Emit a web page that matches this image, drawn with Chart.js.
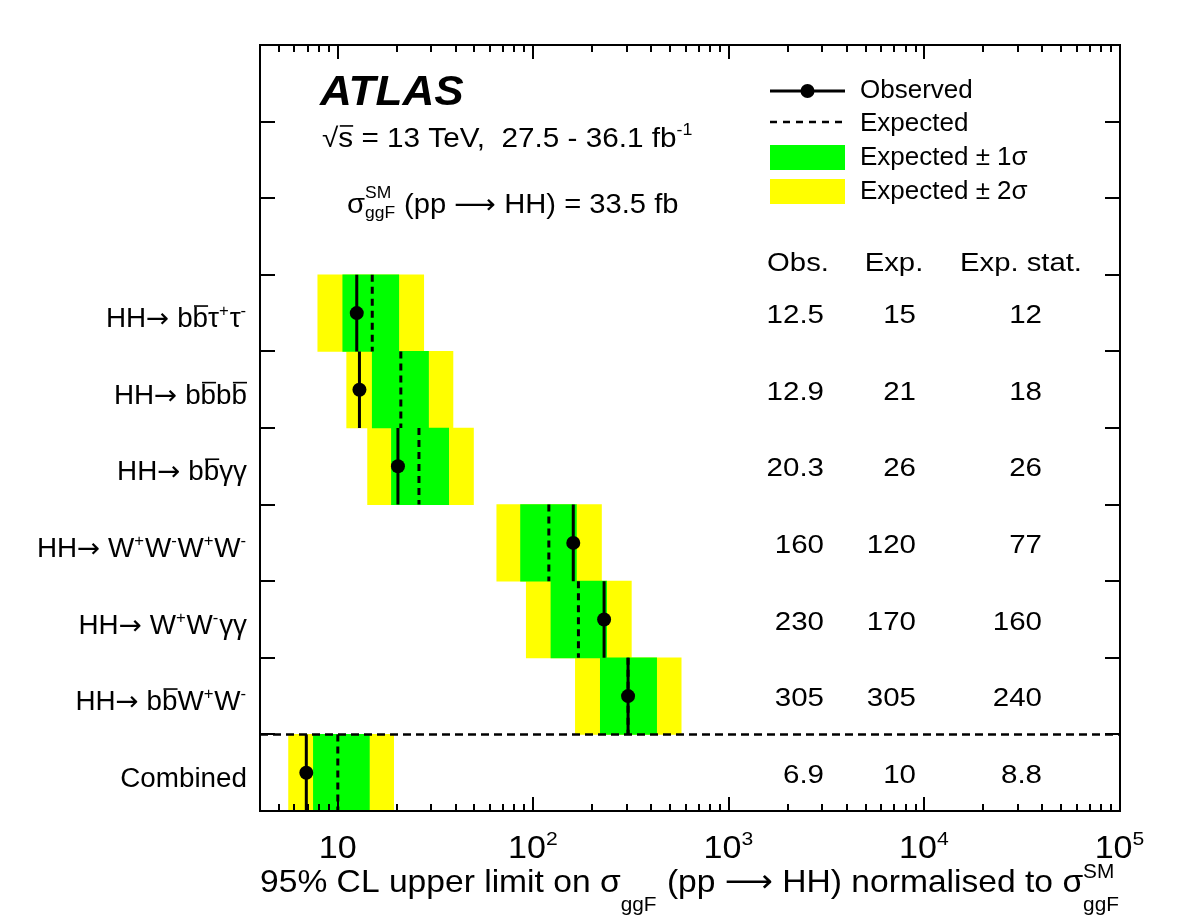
<!DOCTYPE html>
<html>
<head>
<meta charset="utf-8">
<title>HH limits</title>
<script src="https://cdn.jsdelivr.net/npm/chart.js@4.4.1/dist/chart.umd.min.js"></script>
<style>
  body { margin: 0; background: #fff; }
  canvas { display: block; }
</style>
</head>
<body>
<canvas id="hhChart" width="1182" height="923"></canvas>
<script>
// channel names: ^{} superscript, _{} subscript, #{} overline, @{} symbol font
const channels = [
  'HH@{\u2192} b#{b}\u03c4^{+}\u03c4^{-}',
  'HH@{\u2192} b#{b}b#{b}',
  'HH@{\u2192} b#{b}\u03b3\u03b3',
  'HH@{\u2192} W^{+}W^{-}W^{+}W^{-}',
  'HH@{\u2192} W^{+}W^{-}\u03b3\u03b3',
  'HH@{\u2192} b#{b}W^{+}W^{-}',
  'Combined'
];
const observed = [12.5, 12.9, 20.3, 160, 230, 305, 6.9];
const expected = [15, 21, 26, 120, 170, 305, 10];
const expStat = [12, 18, 26, 77, 160, 240, 8.8];
const band1Lo = [10.6, 15.0, 18.8, 86, 123, 220, 7.5];
const band1Hi = [20.5, 29.1, 36.9, 166, 237, 427, 14.5];
const band2Lo = [7.9, 11.1, 14.2, 65, 92, 164, 5.6];
const band2Hi = [27.5, 38.8, 49.4, 223, 317, 570, 19.3];
const xTickValues = [10, 100, 1000, 10000, 100000];
const xTickLabels = ['10', '10^{2}', '10^{3}', '10^{4}', '10^{5}'];
const tableHeads = ['Obs.', 'Exp.', 'Exp. stat.'];
const legendLabels = ['Observed', 'Expected', 'Expected \u00b1 1\u03c3', 'Expected \u00b1 2\u03c3'];
const xTitle = '95% CL upper limit on \u03c3_{ggF} (pp \u27f6 HH) normalised to \u03c3^{SM}_{ggF}';

const X_MIN = 4, X_MAX = 1e5;
const emptySlots = 3;   // room for the legend above the rows
const nSlots = emptySlots + channels.length;
const rowY = channels.map((c, i) => emptySlots + i + 0.5);
const sepY = emptySlots + channels.length - 1;

const FONT = '"Liberation Sans", "DejaVu Sans", Arial, sans-serif';
const SYMFONT = '"DejaVu Sans", sans-serif';
const YELLOW = '#ffff00', GREEN = '#00ff00';

function parseRich(str) {
  const parts = [];
  let buf = '';
  for (let i = 0; i < str.length; i++) {
    const c = str[i];
    if ('^_#@'.includes(c) && str[i + 1] === '{') {
      if (buf) parts.push({ kind: 'n', text: buf });
      buf = '';
      const end = str.indexOf('}', i + 2);
      parts.push({ kind: c, text: str.slice(i + 2, end) });
      i = end;
    } else {
      buf += c;
    }
  }
  if (buf) parts.push({ kind: 'n', text: buf });
  return parts;
}

// ROOT-like text: small raised/lowered scripts, overlines, slight horizontal stretch (sx)
function drawRich(ctx, str, x, y, size, align, opt) {
  opt = Object.assign({ up: 0.45, down: 0.3, scale: 0.62, sx: 1 }, opt || {});
  const small = size * opt.scale;
  const parts = parseRich(str);
  const items = [];
  let w = 0;
  for (let i = 0; i < parts.length; i++) {
    const p = parts[i];
    if (p.kind === '^' || p.kind === '_') {
      ctx.font = small + 'px ' + FONT;
      let adv = ctx.measureText(p.text).width;
      items.push({ text: p.text, x: w, dy: p.kind === '^' ? -size * opt.up : size * opt.down, font: small + 'px ' + FONT });
      const next = parts[i + 1];
      if (next && (next.kind === '^' || next.kind === '_') && next.kind !== p.kind) {
        items.push({ text: next.text, x: w, dy: next.kind === '^' ? -size * opt.up : size * opt.down, font: small + 'px ' + FONT });
        adv = Math.max(adv, ctx.measureText(next.text).width);
        i++;
      }
      w += adv + size * 0.03;
    } else {
      const font = size + 'px ' + (p.kind === '@' ? SYMFONT : FONT);
      ctx.font = font;
      items.push({ text: p.text, x: w, dy: 0, font: font, bar: p.kind === '#' });
      w += ctx.measureText(p.text).width;
    }
  }
  const tw = w * opt.sx;
  const x0 = align === 'right' ? x - tw : align === 'center' ? x - tw / 2 : x;
  ctx.save();
  ctx.translate(x0, y);
  ctx.scale(opt.sx, 1);
  ctx.fillStyle = '#000';
  ctx.strokeStyle = '#000';
  ctx.textAlign = 'left';
  ctx.textBaseline = 'alphabetic';
  items.forEach(it => {
    ctx.font = it.font;
    ctx.fillText(it.text, it.x, it.dy);
    if (it.bar) {
      const bw = ctx.measureText(it.text).width;
      ctx.lineWidth = Math.max(1.2, size * 0.06);
      ctx.beginPath();
      ctx.moveTo(it.x + size * 0.05, -size * 0.78);
      ctx.lineTo(it.x + bw, -size * 0.78);
      ctx.stroke();
    }
  });
  ctx.restore();
  return tw;
}

// vertical segment per row, broken by null points
function rowSegments(vals) {
  return vals.flatMap((v, i) => [
    { x: v, y: rowY[i] - 0.5 },
    { x: v, y: rowY[i] + 0.5 },
    { x: null, y: null }
  ]);
}

function logTicks() {
  const ticks = [];
  for (let e = 0; e <= 5; e++) {
    for (let m = 1; m < 10; m++) {
      const v = m * Math.pow(10, e);
      if (v > X_MIN && v < X_MAX) ticks.push({ value: v, major: m === 1 });
    }
  }
  return ticks;
}

const decor = {
  id: 'decor',
  afterDatasetsDraw(chart) {
    const ctx = chart.ctx;
    const { left, right, top, bottom } = chart.chartArea;
    const xs = chart.scales.x, ys = chart.scales.y;

    ctx.save();
    ctx.strokeStyle = '#000';
    ctx.lineWidth = 2;
    ctx.strokeRect(left, top, right - left, bottom - top);

    // ticks pointing inwards on all four sides
    ctx.beginPath();
    xs.ticks.forEach(t => {
      const px = Math.round(xs.getPixelForValue(t.value));
      const len = t.major ? 14 : 7;
      ctx.moveTo(px, bottom); ctx.lineTo(px, bottom - len);
      ctx.moveTo(px, top); ctx.lineTo(px, top + len);
    });
    ys.ticks.forEach(t => {
      if (t.value <= 0 || t.value >= nSlots) return;
      const py = Math.round(ys.getPixelForValue(t.value));
      ctx.moveTo(left, py); ctx.lineTo(left + 15, py);
      ctx.moveTo(right, py); ctx.lineTo(right - 15, py);
    });
    ctx.stroke();
    ctx.restore();

    // x tick labels and title
    xTickValues.forEach((v, i) => {
      drawRich(ctx, xTickLabels[i], xs.getPixelForValue(v), bottom + 47, 31, 'center', { up: 0.42, scale: 0.62, sx: 1.1 });
    });
    drawRich(ctx, xTitle, right, bottom + 81, 32, 'right', { up: 0.45, down: 0.58, scale: 0.62, sx: 1.05 });

    // channel labels and the numbers table
    channels.forEach((name, i) => {
      const cy = ys.getPixelForValue(rowY[i]);
      drawRich(ctx, name, left - 13, cy + 14, 27, 'right', { up: 0.4, down: 0.3, scale: 0.6, sx: 1.03 });
      drawRich(ctx, String(observed[i]), right - 296, cy + 10, 25, 'right', { sx: 1.18 });
      drawRich(ctx, String(expected[i]), right - 204, cy + 10, 25, 'right', { sx: 1.18 });
      drawRich(ctx, String(expStat[i]), right - 78, cy + 10, 25, 'right', { sx: 1.18 });
    });
    drawRich(ctx, tableHeads[0], right - 322, 271, 25, 'center', { sx: 1.17 });
    drawRich(ctx, tableHeads[1], right - 226, 271, 25, 'center', { sx: 1.17 });
    drawRich(ctx, tableHeads[2], right - 99, 271, 25, 'center', { sx: 1.17 });

    // ATLAS label and conditions
    ctx.save();
    ctx.fillStyle = '#000';
    ctx.font = 'italic bold 42px ' + FONT;
    ctx.textBaseline = 'alphabetic';
    ctx.translate(left + 60, 105);
    ctx.scale(1.05, 1);
    ctx.fillText('ATLAS', 0, 0);
    ctx.restore();
    drawRich(ctx, '\u221a#{s} = 13 TeV,  27.5 - 36.1 fb^{-1}', left + 62, 147, 27, 'left', { up: 0.45, scale: 0.6, sx: 1.1 });
    drawRich(ctx, '\u03c3^{SM}_{ggF} (pp \u27f6 HH) = 33.5 fb', left + 87, 213, 27, 'left', { up: 0.55, down: 0.2, scale: 0.6, sx: 1.08 });

    // legend
    const lx0 = right - 350, lx1 = right - 275, tx = right - 260;
    ctx.save();
    ctx.strokeStyle = '#000';
    ctx.fillStyle = '#000';
    ctx.lineWidth = 3;
    ctx.beginPath(); ctx.moveTo(lx0, 91); ctx.lineTo(lx1, 91); ctx.stroke();
    ctx.beginPath(); ctx.arc((lx0 + lx1) / 2, 91, 7, 0, Math.PI * 2); ctx.fill();
    ctx.lineWidth = 2.5;
    ctx.setLineDash([7, 6]);
    ctx.beginPath(); ctx.moveTo(lx0, 122); ctx.lineTo(lx1, 122); ctx.stroke();
    ctx.setLineDash([]);
    ctx.fillStyle = GREEN; ctx.fillRect(lx0, 145, lx1 - lx0, 25);
    ctx.fillStyle = YELLOW; ctx.fillRect(lx0, 179, lx1 - lx0, 25);
    ctx.restore();
    [98, 131, 165, 199].forEach((by, i) => drawRich(ctx, legendLabels[i], tx, by, 25, 'left', { sx: 1.04 }));
  }
};

new Chart(document.getElementById('hhChart'), {
  type: 'bar',
  data: {
    datasets: [
      {
        type: 'scatter', label: legendLabels[0], order: 0,
        data: rowY.map((y, i) => ({ x: observed[i], y })),
        pointRadius: 7, pointBackgroundColor: '#000', pointBorderWidth: 0
      },
      {
        type: 'line', label: legendLabels[0] + ' line', order: 1,
        data: rowSegments(observed),
        borderColor: '#000', borderWidth: 3, pointRadius: 0, fill: false
      },
      {
        type: 'line', label: legendLabels[1], order: 2,
        data: rowSegments(expected),
        borderColor: '#000', borderWidth: 3, borderDash: [7, 5], pointRadius: 0, fill: false
      },
      {
        type: 'line', label: 'separator', order: 3,
        data: [{ x: X_MIN, y: sepY }, { x: X_MAX, y: sepY }],
        borderColor: '#000', borderWidth: 2.5, borderDash: [8, 5], pointRadius: 0, fill: false
      },
      {
        label: legendLabels[2], order: 4,
        data: rowY.map((y, i) => ({ x: [band1Lo[i], band1Hi[i]], y })),
        backgroundColor: GREEN, grouped: false, barPercentage: 1, categoryPercentage: 1
      },
      {
        label: legendLabels[3], order: 5,
        data: rowY.map((y, i) => ({ x: [band2Lo[i], band2Hi[i]], y })),
        backgroundColor: YELLOW, grouped: false, barPercentage: 1, categoryPercentage: 1
      }
    ]
  },
  options: {
    indexAxis: 'y',
    responsive: false,
    devicePixelRatio: 1,
    animation: false,
    layout: { padding: { left: 260, right: 62, top: 45, bottom: 112 } },
    plugins: { legend: { display: false }, tooltip: { enabled: false } },
    scales: {
      x: {
        type: 'logarithmic', min: X_MIN, max: X_MAX,
        ticks: { display: false },
        grid: { display: false, drawTicks: false },
        border: { display: false },
        afterBuildTicks: s => { s.ticks = logTicks(); }
      },
      y: {
        type: 'linear', min: 0, max: nSlots, reverse: true, offset: false,
        ticks: { display: false, stepSize: 1 },
        grid: { display: false, drawTicks: false },
        border: { display: false }
      }
    }
  },
  plugins: [decor]
});
</script>
</body>
</html>
